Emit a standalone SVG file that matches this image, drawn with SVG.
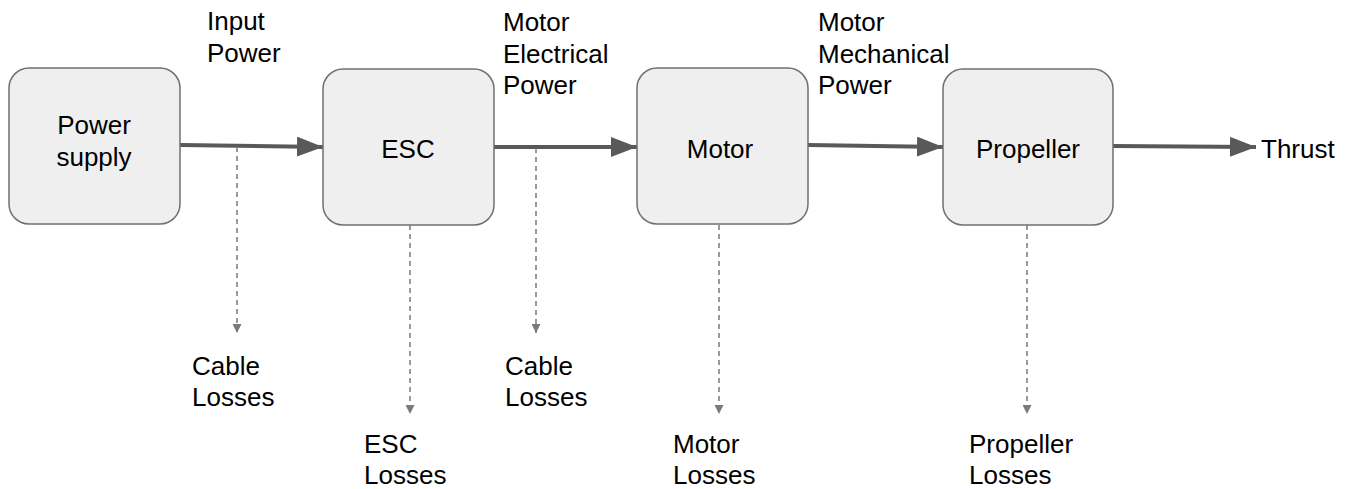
<svg xmlns="http://www.w3.org/2000/svg" width="1352" height="489" viewBox="0 0 1352 489">
  <defs>
    <style>
      .box { fill: #efefef; stroke: #707070; stroke-width: 1.5; }
      .lbl { font-family: "Liberation Sans", Arial, sans-serif; font-size: 26px; fill: #000; }
      .mid { text-anchor: middle; }
      .flow { stroke: #595959; stroke-width: 4; fill: none; }
      .loss { stroke: #7a7a7a; stroke-width: 1.5; stroke-dasharray: 5 4; fill: none; }
    </style>
    <marker id="bigHead" markerWidth="6.5" markerHeight="5" refX="6.5" refY="2.5" orient="auto" markerUnits="strokeWidth">
      <path d="M0,0 L6.5,2.5 L0,5 Z" fill="#595959"/>
    </marker>
    <marker id="smallHead" markerWidth="6" markerHeight="6" refX="6" refY="3" orient="auto" markerUnits="strokeWidth">
      <path d="M0,0 L6,3 L0,6 Z" fill="#7a7a7a"/>
    </marker>
  </defs>

  <rect width="1352" height="489" fill="#ffffff"/>

  <g id="connectors">
    <path class="flow" d="M180,145 L323,147" marker-end="url(#bigHead)"/>
    <path class="flow" d="M494,147 L637,147" marker-end="url(#bigHead)"/>
    <path class="flow" d="M808,145 L943,147" marker-end="url(#bigHead)"/>
    <path class="flow" d="M1113,146 L1256,147" marker-end="url(#bigHead)"/>
    <path class="loss" d="M237,147 L237,333" marker-end="url(#smallHead)"/>
    <path class="loss" d="M410,225 L410,414" marker-end="url(#smallHead)"/>
    <path class="loss" d="M536,148 L536,333" marker-end="url(#smallHead)"/>
    <path class="loss" d="M719,225 L719,414" marker-end="url(#smallHead)"/>
    <path class="loss" d="M1027,225 L1027,414" marker-end="url(#smallHead)"/>
  </g>

  <g id="power-supply">
    <rect class="box" x="9" y="68" width="171" height="156" rx="20"/>
    <text class="lbl mid" x="94" y="134">Power</text>
    <text class="lbl mid" x="94" y="166">supply</text>
  </g>
  <g id="esc">
    <rect class="box" x="323" y="69" width="171" height="156" rx="20"/>
    <text class="lbl mid" x="408" y="158">ESC</text>
  </g>
  <g id="motor">
    <rect class="box" x="637" y="68" width="171" height="156" rx="20"/>
    <text class="lbl mid" x="720" y="158">Motor</text>
  </g>
  <g id="propeller">
    <rect class="box" x="943" y="69" width="170" height="156" rx="20"/>
    <text class="lbl mid" x="1028" y="158">Propeller</text>
  </g>

  <g id="flow-labels">
    <text class="lbl" x="207" y="30">Input</text>
    <text class="lbl" x="207" y="62">Power</text>
    <text class="lbl" x="503" y="31">Motor</text>
    <text class="lbl" x="503" y="63">Electrical</text>
    <text class="lbl" x="503" y="94">Power</text>
    <text class="lbl" x="818" y="31">Motor</text>
    <text class="lbl" x="818" y="63">Mechanical</text>
    <text class="lbl" x="818" y="94">Power</text>
    <text class="lbl" x="1261" y="158">Thrust</text>
  </g>

  <g id="loss-labels">
    <text class="lbl" x="192" y="375">Cable</text>
    <text class="lbl" x="192" y="406">Losses</text>
    <text class="lbl" x="364" y="453">ESC</text>
    <text class="lbl" x="364" y="484">Losses</text>
    <text class="lbl" x="505" y="375">Cable</text>
    <text class="lbl" x="505" y="406">Losses</text>
    <text class="lbl" x="673" y="453">Motor</text>
    <text class="lbl" x="673" y="484">Losses</text>
    <text class="lbl" x="969" y="453">Propeller</text>
    <text class="lbl" x="969" y="484">Losses</text>
  </g>
</svg>
